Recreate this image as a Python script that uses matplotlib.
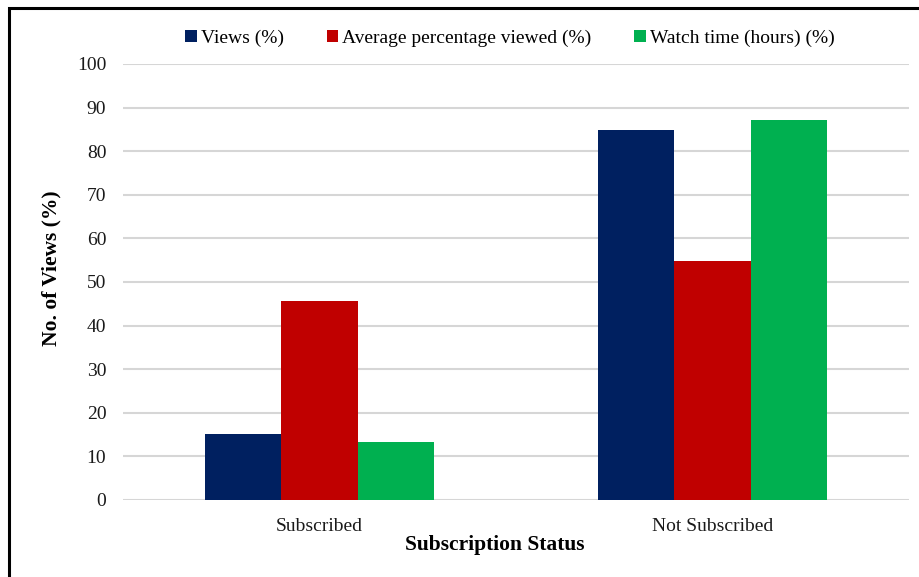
import numpy as np
import matplotlib.pyplot as plt
from matplotlib.patches import Rectangle

plt.rcParams['font.family'] = ['Liberation Serif', 'DejaVu Serif']

categories = ["Subscribed", "Not Subscribed"]
views = [15.1, 84.9]
avg_viewed = [45.7, 54.9]
watch_time = [13.2, 87.2]

series = [
    ("Views (%)", views, "#002060"),
    ("Average percentage viewed (%)", avg_viewed, "#C00000"),
    ("Watch time (hours) (%)", watch_time, "#00B050"),
]

fig = plt.figure(figsize=(9.19, 5.77), dpi=100)
ax = fig.add_axes([123 / 919, 1 - 500 / 577, 786 / 919, 436 / 577])

x = np.arange(len(categories))
w = 0.195
for i, (label, vals, color) in enumerate(series):
    ax.bar(x + (i - 1) * w, vals, width=w, color=color, label=label, zorder=3)

ax.set_xlim(-0.5, 1.5)
ax.set_ylim(0, 100)
ax.set_yticks(range(0, 101, 10))
ax.set_xticks(x)
ax.set_xticklabels(categories)
ax.grid(axis='y', color='#d6d6d6', linewidth=1.5, zorder=0)
ax.tick_params(axis='both', length=0, labelsize=14, labelcolor='#1a1a1a')
ax.tick_params(axis='y', pad=12)
ax.tick_params(axis='x', pad=13)
for s in ax.spines.values():
    s.set_visible(False)

fig.text(51 / 919, 1 - 268 / 577, "No. of Views (%)", rotation=90,
         ha='center', va='center', fontsize=15.5, fontweight='bold')
fig.text(495 / 919, 1 - 545 / 577, "Subscription Status",
         ha='center', va='center', fontsize=15.5, fontweight='bold')

ax.legend(loc='center', bbox_to_anchor=(510 / 919, 1 - 38 / 577),
          bbox_transform=fig.transFigure, ncol=3, frameon=False,
          fontsize=14, handlelength=0.6, handleheight=0.6,
          handletextpad=0.2, columnspacing=2.2)

# outer frame around the chart
fig.patches.append(Rectangle((8.5 / 919, -0.1), 1.2, 1 - 8 / 577 + 0.1,
                             transform=fig.transFigure, fill=False,
                             edgecolor='black', linewidth=2.2))

fig.savefig("out.png", dpi=100)
